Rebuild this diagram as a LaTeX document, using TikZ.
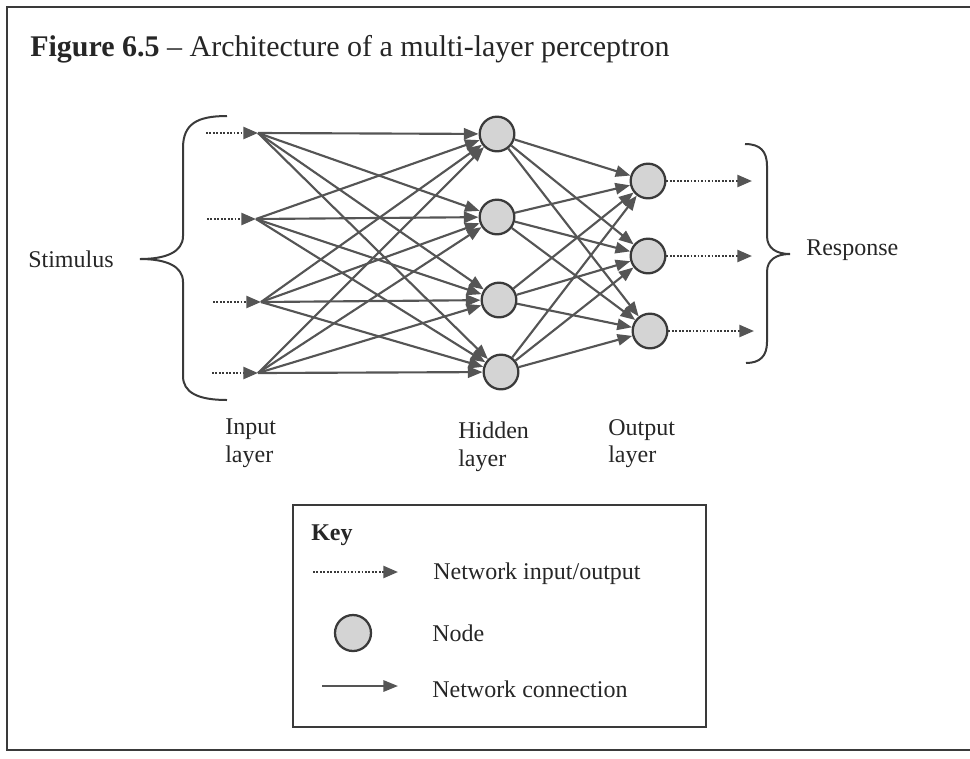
\documentclass[tikz,border=0pt]{standalone}
\usepackage{fontspec}
\setmainfont{Liberation Serif}
\usetikzlibrary{arrows.meta}
\definecolor{cg}{HTML}{555555}
\definecolor{dg}{HTML}{3A3A3A}
\definecolor{nf}{HTML}{D4D4D4}
\tikzset{
  conn/.style={draw=cg, line width=1.6pt, -{Triangle[length=11pt,width=8.5pt]}},
  io/.style={draw=dg, line width=1.8pt, dash pattern=on 1.3pt off 1.3pt, -{Triangle[length=11pt,width=9pt,color=cg]}},
  neuron/.style={circle, draw=dg, line width=1.7pt, fill=nf, minimum size=26pt, inner sep=0pt},
  lab/.style={font=\fontsize{18}{20.5}\selectfont, inner sep=0pt, text=black!85},
  brace/.style={draw=dg, line width=1.5pt},
  frame/.style={draw=dg, line width=1.7pt}
}
\begin{document}
\begin{tikzpicture}[x=0.75pt, y=-0.75pt]
\useasboundingbox (0,0) rectangle (970,758);
% outer frame
\draw[frame] (970,7) -- (7,7) -- (7,750) -- (970,750);
% title
\node[anchor=base west, inner sep=0pt, font=\fontsize{22.5}{27}\selectfont, text=black!85] (title) at (30,56) {\textbf{Figure 6.5} -- Architecture of a multi-layer perceptron};
% input points
\coordinate (i1) at (258,133);
\coordinate (i2) at (256,219);
\coordinate (i3) at (261,302);
\coordinate (i4) at (258,373);
\coordinate (s1) at (206,133);
\coordinate (s2) at (207,219);
\coordinate (s3) at (213,302);
\coordinate (s4) at (212,373);
% hidden nodes
\node[neuron] (h1) at (497,134) {};
\node[neuron] (h2) at (497,217) {};
\node[neuron] (h3) at (499,300) {};
\node[neuron] (h4) at (501,372) {};
% output nodes
\node[neuron] (o1) at (648,181) {};
\node[neuron] (o2) at (648,256) {};
\node[neuron] (o3) at (650,331) {};
\coordinate (e1) at (752,181);
\coordinate (e2) at (752,256);
\coordinate (e3) at (754,331);
% input dotted arrows
\foreach \k in {1,2,3,4} {\draw[io] (s\k) -- (i\k);}
% connections
\foreach \a in {1,2,3,4} {\foreach \b in {1,2,3,4} {\draw[conn] (i\a) -- (h\b);}}
\foreach \a in {1,2,3,4} {\foreach \b in {1,2,3} {\draw[conn] (h\a) -- (o\b);}}
% output dotted arrows
\foreach \k in {1,2,3} {\draw[io] (o\k) -- (e\k);}
% braces
\draw[brace] (227,116) .. controls (197,116) and (183,124) .. (183,148) -- (183,236) .. controls (183,252) and (166,259) .. (140,259) .. controls (166,259) and (183,266) .. (183,282) -- (183,376) .. controls (183,392) and (197,400) .. (227,400);
\draw[brace] (745,144) .. controls (760,144) and (767,151) .. (767,166) -- (767,236) .. controls (767,248) and (776,254) .. (790,254) .. controls (776,254) and (767,260) .. (767,272) -- (767,342) .. controls (767,356) and (760,363) .. (746,363);
% labels
\node[lab, anchor=west] (stim) at (28,259) {Stimulus};
\node[lab, anchor=west] (resp) at (806,250) {Response};
\node[lab, anchor=north west, align=left] (inl) at (225,419) {Input\\layer};
\node[lab, anchor=north west, align=left] (hidl) at (458,422) {Hidden\\layer};
\node[lab, anchor=north west, align=left] (outl) at (608,419) {Output\\layer};
% key
\node[draw=dg, line width=1.7pt, minimum width=413*0.75pt, minimum height=222*0.75pt, anchor=north west, inner sep=0pt] (key) at (292,504) {};
\node[lab, anchor=base west] (keyt) at (311,540) {\textbf{Key}};
\coordinate (k1s) at (313,572);
\coordinate (k1e) at (398,572);
\draw[io] (k1s) -- (k1e);
\node[lab, anchor=west] (k1t) at (433,574) {Network input/output};
\node[neuron, minimum size=27pt] (kn) at (353,633) {};
\node[lab, anchor=west] (k2t) at (432,633) {Node};
\coordinate (k3s) at (322,686);
\coordinate (k3e) at (398,686);
\draw[conn] (k3s) -- (k3e);
\node[lab, anchor=west] (k3t) at (432,689) {Network connection};
\end{tikzpicture}
\end{document}
